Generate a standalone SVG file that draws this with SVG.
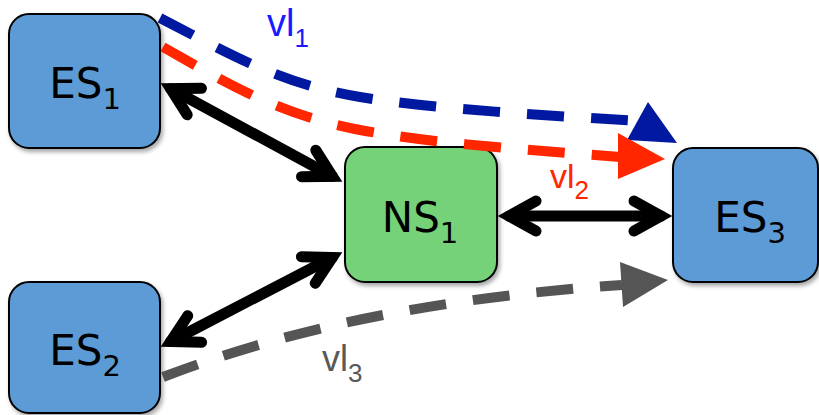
<svg xmlns="http://www.w3.org/2000/svg" width="819" height="415" viewBox="0 0 819 415">
<style>
.box{stroke:#000;stroke-width:2}
.es{fill:#5b9bd5}
.ns{fill:#75d279}
.lbl{font-family:"DejaVu Sans",Verdana,sans-serif;font-size:42px;fill:#000;text-anchor:middle}
.sub{font-size:29px}
.vl{font-family:"Liberation Sans",Arial,sans-serif}
.vsub{font-size:26px}
.link{fill:none;stroke:#000;stroke-width:11;stroke-linecap:round}
.vlink{fill:none;stroke-width:10;stroke-dasharray:37 27}
</style>
<defs>
<filter id="sh" x="-10%" y="-10%" width="130%" height="130%">
<feDropShadow dx="2" dy="3" stdDeviation="2" flood-color="#000" flood-opacity="0.35"/>
</filter>
<marker id="chev" markerUnits="userSpaceOnUse" viewBox="-40 -25 50 50" refX="0" refY="0" markerWidth="50" markerHeight="50" orient="auto-start-reverse" overflow="visible">
<path d="M-27,-15 L0,0 L-27,15" fill="none" stroke="#000" stroke-width="11" stroke-linecap="round" stroke-linejoin="miter"/>
</marker>
</defs>

<g id="ES1">
<rect class="box es" x="9" y="14" width="151" height="134" rx="20" filter="url(#sh)"/>
<text class="lbl" x="85" y="98">ES<tspan class="sub" dy="11">1</tspan></text>
</g>
<g id="ES2">
<rect class="box es" x="9" y="282" width="151" height="131" rx="20" filter="url(#sh)"/>
<text class="lbl" x="85" y="365">ES<tspan class="sub" dy="11">2</tspan></text>
</g>
<g id="NS1">
<rect class="box ns" x="345" y="147" width="152" height="135" rx="20" filter="url(#sh)"/>
<text class="lbl" x="420" y="232">NS<tspan class="sub" dy="11">1</tspan></text>
</g>
<g id="ES3">
<rect class="box es" x="673" y="148" width="145" height="134" rx="20" filter="url(#sh)"/>
<text class="lbl" x="750" y="232">ES<tspan class="sub" dy="11">3</tspan></text>
</g>

<g id="connectors">
<path class="link" d="M170.6,88.7 L332.4,176.3" marker-start="url(#chev)" marker-end="url(#chev)"/>
<path class="link" d="M170.7,341.5 L332.3,257.5" marker-start="url(#chev)" marker-end="url(#chev)"/>
<path class="link" d="M509,216 L661,216" marker-start="url(#chev)" marker-end="url(#chev)"/>

<path class="vlink" stroke="#0019a0" d="M160,18 C230,54 280,84 360,97 S560,116 638,121"/>
<polygon fill="#0019a0" points="648,102 677,143 627,140"/>
<path class="vlink" stroke="#ff2600" d="M163,47 C230,85 280,115 360,130 S560,152 620,157"/>
<polygon fill="#ff2600" points="618,133 665,159 618,179"/>
<path class="vlink" stroke="#555555" d="M163,377 C260,340 400,300 622,285"/>
<polygon fill="#555555" points="620,262 668,280 623,307"/>

<text class="vl" x="267" y="36" font-size="38" fill="#1a1aff">vl<tspan class="vsub" dy="11">1</tspan></text>
<text class="vl" x="550" y="188" font-size="34" fill="#ff2600">vl<tspan class="vsub" dy="11">2</tspan></text>
<text class="vl" x="322" y="371" font-size="36" fill="#595959">vl<tspan class="vsub" dy="11">3</tspan></text>
</g>
</svg>
